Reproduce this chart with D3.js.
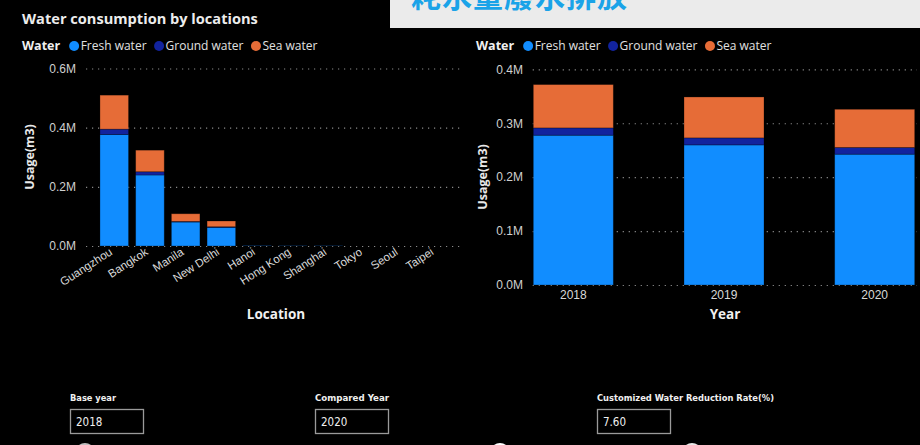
<!DOCTYPE html>
<html><head><meta charset="utf-8">
<script src="https://cdn.jsdelivr.net/npm/d3@7"></script>
<style>
body{margin:0;background:#000;overflow:hidden;}
svg{display:block;font-family:"Segoe UI","Open Sans","Noto Sans",sans-serif;}
</style>
</head><body><svg id="c" width="920" height="445"></svg>
<script>
// ---------- data ----------
const locations = ["Guangzhou","Bangkok","Manila","New Delhi","Hanoi","Hong Kong","Shanghai","Tokyo","Seoul","Taipei"];
const locFresh  = [377000, 240000, 81000, 63000, 1500, 1000, 1000, 0, 0, 0];
const locGround = [18000, 11000, 2000, 2000, 300, 200, 200, 0, 0, 0];
const locSea    = [115000, 73000, 26000, 19500, 0, 0, 0, 0, 0, 0];

const years     = ["2018","2019","2020"];
const yrFresh   = [277800, 259800, 242600];
const yrGround  = [13500, 13000, 12400];
const yrSea     = [80400, 75900, 70900];

const leftTicks  = [0, 200000, 400000, 600000];
const rightTicks = [0, 100000, 200000, 300000, 400000];

const seriesKeys   = ["fresh","ground","sea"];
const seriesNames  = ["Fresh water","Ground water","Sea water"];
const seriesColors = ["#118DFF","#12239E","#E66C37"];

const controlLabels = ["Base year","Compared Year","Customized Water Reduction Rate(%)"];
const controlValues = ["2018","2020","7.60"];

// ---------- helpers ----------
const svg = d3.select("#c");
svg.append("rect").attr("width",920).attr("height",445).attr("fill","#000");
const fmt = v => d3.format(".1f")(v/1e6) + "M";
const color = d3.scaleOrdinal().domain(seriesKeys).range(seriesColors);

function legend(x, y) {
  const g = svg.append("g").attr("transform", `translate(${x},${y})`);
  const t = g.append("text").text("Water").attr("y", 0).attr("dy","0.35em")
    .attr("font-size", 12.5).attr("font-weight", 700).attr("fill", "#f0f0f0");
  let cx = t.node().getComputedTextLength() + 14;
  seriesKeys.forEach((k, i) => {
    g.append("circle").attr("cx", cx).attr("cy", 0).attr("r", 5).attr("fill", color(k));
    const tt = g.append("text").text(seriesNames[i]).attr("x", cx + 6.5).attr("dy","0.35em")
      .attr("font-size", 12).attr("fill", "#e0e0e0");
    cx = cx + 6.5 + tt.node().getComputedTextLength() + 12.5;
  });
}

function chart(cfg) {
  const data = cfg.cats.map((c, i) => ({cat: c, fresh: cfg.fresh[i], ground: cfg.ground[i], sea: cfg.sea[i]}));
  const stack = d3.stack().keys(seriesKeys)(data);
  const x = d3.scaleBand().domain(cfg.cats).range(cfg.xRange)
    .paddingInner(cfg.padIn).paddingOuter(cfg.padOut);
  const y = d3.scaleLinear().domain([0, cfg.yMax]).range(cfg.yRange);

  // grid
  const grid = svg.append("g");
  grid.selectAll("line").data(cfg.ticks).join("line")
    .attr("x1", cfg.gridX[0]).attr("x2", cfg.gridX[1])
    .attr("y1", d => y(d) + 0.5).attr("y2", d => y(d) + 0.5)
    .attr("stroke", "#8a8a8a").attr("stroke-width", 1.2).attr("stroke-dasharray", "1.2,4.8");

  // y axis labels
  const yAxis = d3.axisLeft(y).tickValues(cfg.ticks).tickFormat(fmt).tickSize(0).tickPadding(0);
  const ya = svg.append("g").attr("transform", `translate(${cfg.yLabelX},0)`).call(yAxis);
  ya.select(".domain").remove();
  ya.selectAll("text").attr("font-size", 12).attr("fill", "#d0d0d0")
    .attr("font-family", "inherit");

  // bars
  svg.append("g").selectAll("g").data(stack).join("g")
    .attr("fill", d => color(d.key))
    .selectAll("rect").data(d => d).join("rect")
    .attr("x", d => x(d.data.cat))
    .attr("width", x.bandwidth())
    .attr("y", d => y(d[1]))
    .attr("height", d => Math.max(0, y(d[0]) - y(d[1])))
    .attr("stroke", "rgba(0,0,0,0.35)").attr("stroke-width", 0.8);

  // x axis labels
  const xAxis = d3.axisBottom(x).tickSize(0).tickPadding(0);
  const xa = svg.append("g").attr("transform", `translate(0,${cfg.yRange[0]})`).call(xAxis);
  xa.select(".domain").remove();
  xa.selectAll("text").attr("font-family", "inherit").attr("fill", "#d8d8d8");
  if (cfg.rotate) {
    xa.selectAll("text").attr("font-size", 11.5)
      .attr("text-anchor", "end").attr("dy", "0.3em")
      .attr("transform", `translate(-3,${cfg.xLabelDy}) rotate(-33)`);
  } else {
    xa.selectAll("text").attr("font-size", 12).attr("dy", cfg.xLabelDy);
  }

  // titles
  svg.append("text").text(cfg.xTitle).attr("x", cfg.xTitlePos[0]).attr("y", cfg.xTitlePos[1])
    .attr("text-anchor", "middle").attr("dy", "0.35em").attr("font-size", 13.5)
    .attr("font-weight", 700).attr("fill", "#f0f0f0");
  svg.append("text").text("Usage(m3)")
    .attr("transform", `translate(${cfg.yTitlePos[0]},${cfg.yTitlePos[1]}) rotate(-90)`)
    .attr("text-anchor", "middle").attr("dy", "0.35em").attr("font-size", 12.5)
    .attr("font-weight", 700).attr("fill", "#e8e8e8");
}

// ---------- left chart ----------
svg.append("text").text("Water consumption by locations").attr("x", 22).attr("y", 19)
  .attr("dy", "0.35em").attr("font-size", 14.6).attr("font-weight", 700).attr("fill", "#ececec");
legend(22, 46);
chart({
  cats: locations, fresh: locFresh, ground: locGround, sea: locSea,
  xRange: [96.4, 453.4], padIn: 0.2, padOut: 0.1,
  yMax: 600000, yRange: [246, 68.5], ticks: leftTicks,
  gridX: [86, 463], yLabelX: 76, rotate: true, xLabelDy: 5,
  xTitle: "Location", xTitlePos: [276, 314], yTitlePos: [30, 157]
});

// ---------- right chart ----------
legend(476, 46);
chart({
  cats: years, fresh: yrFresh, ground: yrGround, sea: yrSea,
  xRange: [533.3, 914.7], padIn: 0.469, padOut: 0,
  yMax: 400000, yRange: [285, 69.3], ticks: rightTicks,
  gridX: [532.7, 917], yLabelX: 523, rotate: false, xLabelDy: "1.2em",
  xTitle: "Year", xTitlePos: [725, 314], yTitlePos: [483, 177]
});

// ---------- banner (title cut off at the top edge, as in the reference) ----------
svg.append("rect").attr("x", 390).attr("y", 0).attr("width", 530).attr("height", 28).attr("fill", "#ebebeb");
svg.append("text").text("耗水量廢水排放").attr("x", 411).attr("y", 7)
  .attr("font-family", "'Noto Sans CJK TC','Noto Sans CJK SC',sans-serif")
  .attr("font-size", 30).attr("font-weight", 700).attr("letter-spacing", 1).attr("fill", "#1AA3E8");

// ---------- controls ----------
const ctrlX = [70, 315, 597];
const ctrlLabelW = [46, 74, 177];
const ctrlFont = "'DejaVu Sans Condensed','Liberation Sans Narrow',sans-serif";
ctrlX.forEach((cx, i) => {
  svg.append("text").text(controlLabels[i]).attr("x", cx).attr("y", 401)
    .attr("font-family", ctrlFont)
    .attr("font-size", 9.5).attr("font-weight", 700).attr("fill", "#f0f0f0")
    .attr("textLength", ctrlLabelW[i]).attr("lengthAdjust", "spacingAndGlyphs");
  svg.append("rect").attr("x", cx + 0.5).attr("y", 409.5).attr("width", 73).attr("height", 24)
    .attr("fill", "#000").attr("stroke", "#9a9a9a").attr("stroke-width", 1.3);
  svg.append("text").text(controlValues[i]).attr("x", cx + 6).attr("y", 426)
    .attr("font-family", ctrlFont)
    .attr("font-size", 11.5).attr("fill", "#f0f0f0");
});
const knobX = [85, 500, 692];
const knobFill = ["#bdbdbd", "#ffffff", "#e8e8e8"];
knobX.forEach((kx, i) => {
  svg.append("circle").attr("cx", kx).attr("cy", 453).attr("r", 10).attr("fill", knobFill[i]);
});
</script>
</body></html>
